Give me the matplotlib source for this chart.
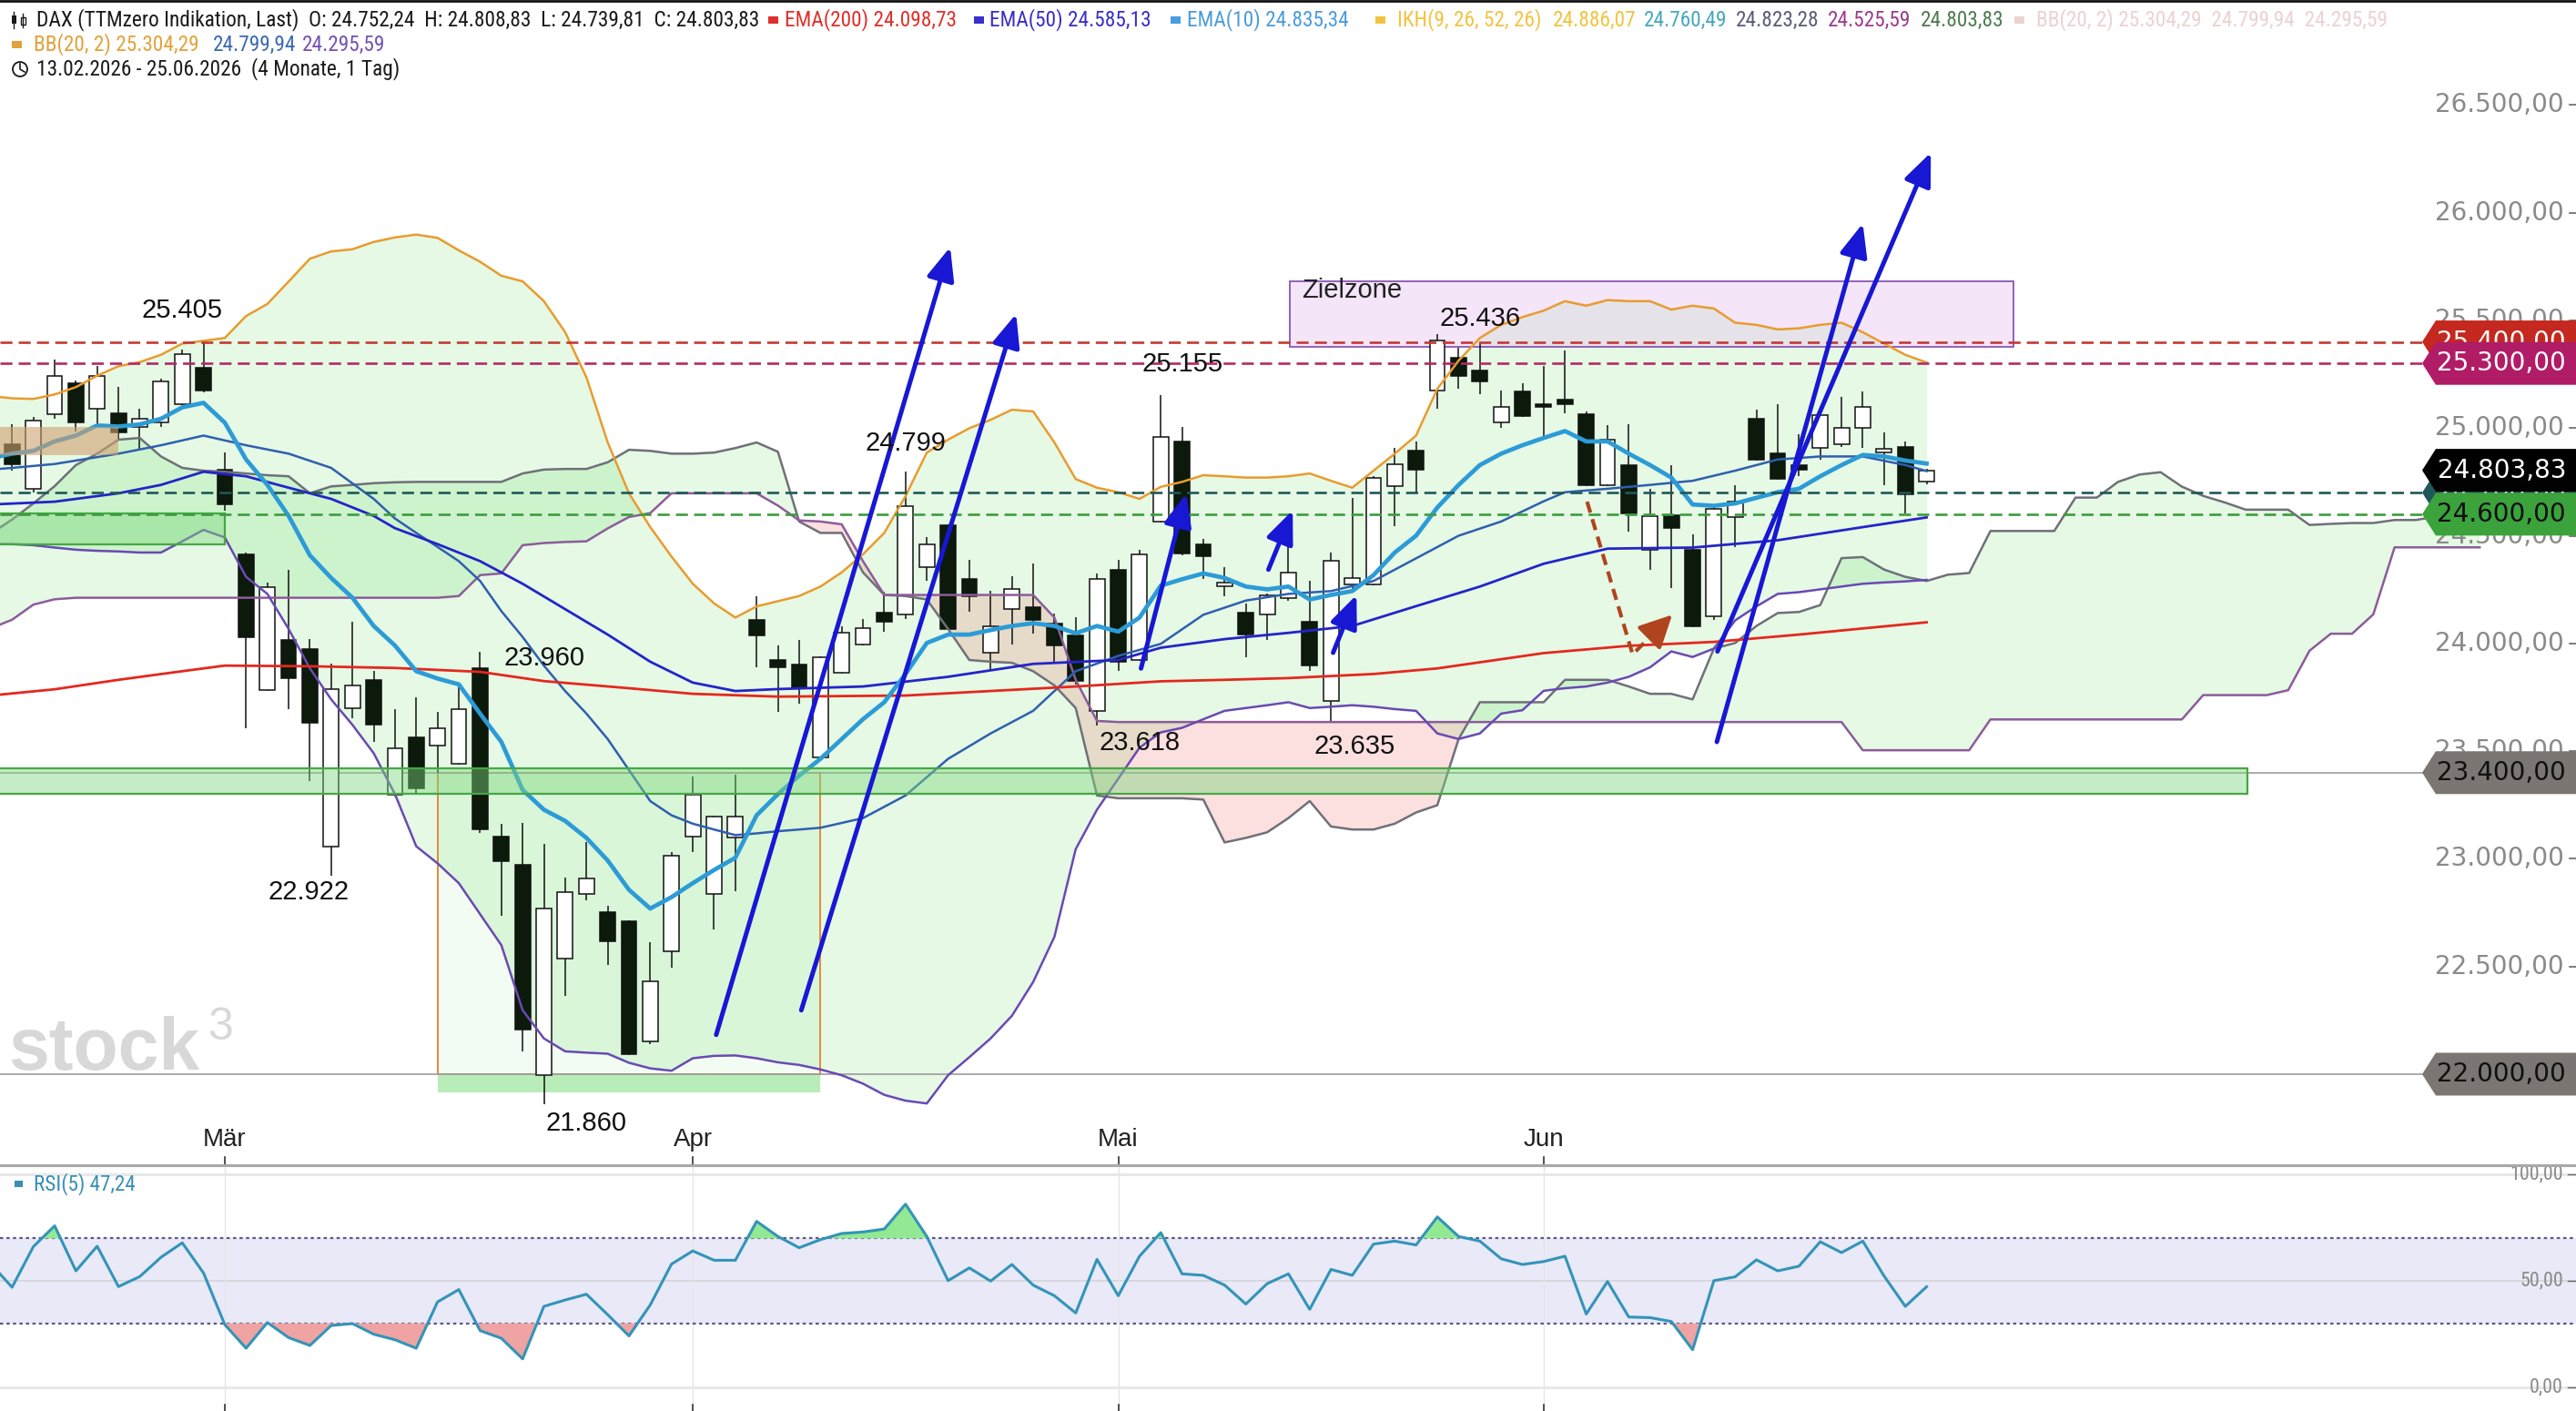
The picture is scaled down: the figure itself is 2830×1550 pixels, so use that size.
import matplotlib
matplotlib.use("Agg")
import matplotlib.pyplot as plt
import numpy as np
from matplotlib import font_manager, transforms
from matplotlib.font_manager import FontProperties
from matplotlib.patches import Rectangle, Polygon, Circle

# ---------------- data ----------------
opens = [24850, 24925, 24718, 25064, 25206, 25090, 25070, 25007, 25025, 25111,
         25279, 24807, 24414, 23784, 24015, 23973, 23058, 23700, 23831, 23299,
         23564, 23527, 23443, 23884, 23105, 22974, 21995, 22538, 22835, 22751,
         22709, 22153, 22572, 23102, 22835, 23097, 24107, 23923, 23902, 23472,
         23866, 23994, 24141, 24136, 24356, 24548, 24298, 23957, 24159, 24167,
         24094, 24036, 23687, 24340, 23923, 24566, 24938, 24461, 24264, 24141,
         24133, 24212, 24099, 23732, 24272, 24272, 24729, 24894, 25174, 25327,
         25269, 25025, 25169, 25109, 25130, 25064, 24736, 24828, 24435, 24597,
         24435, 24125, 24587, 25043, 24881, 24828, 24907, 24925, 24999, 24886,
         24912, 24752.24]
highs = [24920, 25017, 25051, 25319, 25222, 25287, 25190, 25090, 25227, 25363,
         25405, 24886, 24422, 24283, 24343, 24020, 23905, 24102, 23871, 23695,
         23748, 23682, 23810, 23960, 23163, 23168, 23071, 22913, 23076, 22782,
         22715, 22612, 23031, 23380, 23200, 23391, 24220, 23989, 24015, 23940,
         24081, 24115, 24238, 24799, 24492, 24552, 24388, 24246, 24312, 24369,
         24138, 24120, 24325, 24388, 24435, 25155, 25007, 24487, 24356, 24186,
         24230, 24487, 24290, 24422, 24676, 24775, 24907, 24938, 25436, 25374,
         25392, 25174, 25209, 25287, 25358, 25077, 25012, 25017, 24718, 24828,
         24506, 24631, 24736, 25085, 25111, 24972, 25077, 25143, 25169, 24980,
         24938, 24808.83]
lows = [24780, 24802, 24702, 25043, 24986, 25017, 24946, 24894, 25007, 25105,
        25164, 24618, 23608, 23780, 23695, 23359, 22922, 23653, 23543, 23290,
        23307, 23399, 23438, 23118, 22735, 22105, 21860, 22363, 22808, 22507,
        22090, 22140, 22494, 23031, 22672, 22848, 23889, 23682, 23719, 23470,
        23860, 23990, 24055, 24115, 24290, 24068, 24146, 23871, 23994, 24047,
        23910, 23810, 23618, 23871, 23920, 24560, 24410, 24298, 24220, 23936,
        24015, 24199, 23871, 23635, 24251, 24270, 24545, 24702, 25090, 25182,
        25156, 24999, 25050, 24959, 25070, 24730, 24730, 24519, 24343, 24256,
        24075, 24107, 24448, 24849, 24760, 24776, 24854, 24912, 24907, 24736,
        24605, 24739.81]
closes = [24880, 24833, 25033, 25243, 25025, 25243, 24978, 25043, 25216, 25342,
          25174, 24645, 24028, 24262, 23839, 23630, 23787, 23805, 23622, 23511,
          23328, 23608, 23695, 23136, 22987, 22205, 22769, 22845, 22908, 22617,
          22095, 22433, 23013, 23299, 23197, 23197, 24036, 23889, 23792, 23936,
          24049, 24073, 24102, 24639, 24461, 24068, 24220, 24081, 24251, 24107,
          23989, 23826, 24298, 23915, 24414, 24959, 24416, 24403, 24283, 24041,
          24225, 24330, 23897, 24382, 24304, 24770, 24833, 24807, 25405, 25243,
          25216, 25096, 25056, 25096, 25111, 24736, 24946, 24605, 24592, 24534,
          24081, 24624, 24658, 24854, 24763, 24807, 25059, 24999, 25096, 24902,
          24692, 24803.83]

ema10 = [24860, 24881, 24894, 24938, 24965, 25012, 25007, 25017, 25043, 25096,
         25117, 25025, 24854, 24736, 24592, 24409, 24304, 24212, 24081, 23990,
         23871, 23837, 23810, 23674, 23543, 23320, 23228, 23176, 23097, 22992,
         22856, 22769, 22822, 22887, 22948, 23005, 23202, 23300, 23386, 23464,
         23556, 23648, 23727, 23858, 24002, 24041, 24041, 24062, 24081, 24094,
         24081, 24047, 24081, 24055, 24120, 24268, 24298, 24325, 24304, 24264,
         24251, 24264, 24204, 24225, 24243, 24317, 24422, 24500, 24631, 24736,
         24828, 24881, 24920, 24954, 24986, 24938, 24938, 24881, 24828, 24770,
         24645, 24639, 24650, 24676, 24702, 24718, 24776, 24828, 24875, 24868,
         24849, 24835]
bb_up = [25148, 25138, 25135, 25156, 25190, 25243, 25287, 25306, 25340, 25392,
         25405, 25418, 25520, 25576, 25680, 25786, 25820, 25830, 25864, 25885,
         25898, 25883, 25825, 25772, 25707, 25681, 25589, 25445, 25235, 24933,
         24697, 24540, 24403, 24277, 24186, 24120, 24172, 24196, 24220, 24264,
         24330, 24414, 24513, 24684, 24886, 24946, 24999, 25038, 25085, 25077,
         24933, 24763, 24723, 24702, 24671, 24727, 24750, 24781, 24776, 24770,
         24770, 24776, 24789, 24755, 24723, 24802, 24881, 24965, 25182, 25313,
         25418, 25479, 25515, 25545, 25589, 25568, 25594, 25589, 25589, 25550,
         25568, 25555, 25489, 25479, 25458, 25463, 25479, 25489, 25445, 25392,
         25340, 25304]
bb_lo = [24461, 24461, 24456, 24445, 24435, 24430, 24427, 24422, 24422, 24474,
         24527, 24492, 24309, 24230, 24067, 23884, 23740, 23622, 23490, 23300,
         23058, 22979, 22887, 22743, 22599, 22297, 22166, 22106, 22100, 22095,
         22053, 22027, 22016, 22074, 22085, 22087, 22074, 22055, 22043, 22022,
         21995, 21956, 21904, 21877, 21864, 21995, 22079, 22166, 22271, 22428,
         22638, 23045, 23228, 23372, 23516, 23587, 23608, 23648, 23687, 23700,
         23713, 23727, 23700, 23706, 23713, 23706, 23695, 23687, 23582, 23556,
         23582, 23674, 23690, 23780, 23792, 23800, 23818, 23845, 23889, 23963,
         23937, 23976, 24107, 24172, 24230, 24238, 24251, 24264, 24277, 24283,
         24288, 24295]
bbmid_x = [0, 1, 3, 6, 8, 10, 12, 14, 16, 18, 19, 20, 21, 22, 23, 24, 25, 26, 27,
           28, 29, 30, 31, 32, 33, 34, 35, 36, 37, 39, 41, 43, 45, 47, 49, 51, 53,
           55, 57, 59, 61, 63, 65, 67, 69, 71, 73, 74, 76, 78, 80, 82, 84, 86, 88,
           90, 91]
bbmid_y = [24807, 24815, 24833, 24881, 24920, 24965, 24920, 24881, 24815, 24671,
           24580, 24513, 24448, 24382, 24290, 24150, 24030, 23897, 23779, 23674,
           23556, 23412, 23268, 23202, 23163, 23136, 23110, 23118, 23128, 23144,
           23189, 23294, 23464, 23582, 23687, 23871, 23942, 23998, 24133, 24199,
           24230, 24243, 24290, 24395, 24500, 24566, 24660, 24702, 24718, 24736,
           24755, 24802, 24854, 24868, 24868, 24828, 24800]
ema200_x = [0, 3, 6, 9, 11, 15, 19, 23, 26, 30, 33, 37, 43, 47, 51, 55, 58, 61,
            65, 68, 73, 77, 81, 85, 91]
ema200_y = [23758, 23787, 23831, 23871, 23897, 23894, 23886, 23868, 23825, 23792,
            23766, 23753, 23758, 23779, 23800, 23824, 23831, 23839, 23858, 23884,
            23955, 23989, 24007, 24041, 24098]
ema50_x = [0, 3, 6, 8, 10, 12, 14, 16, 18, 19, 21, 23, 25, 27, 29, 31, 33, 35,
           37, 41, 45, 49, 53, 55, 58, 61, 64, 67, 70, 73, 76, 80, 84, 88, 91]
ema50_y = [24645, 24658, 24697, 24736, 24797, 24776, 24723, 24671, 24592, 24535,
           24461, 24382, 24277, 24159, 24041, 23915, 23818, 23779, 23788, 23800,
           23845, 23905, 23923, 23980, 24020, 24049, 24081, 24173, 24264, 24370,
           24440, 24445, 24479, 24540, 24585]

# Ichimoku cloud (runs 26 bars past the last candle)
span_a = [24510, 24575, 24650, 24730, 24828, 24881, 24946, 24954, 24868, 24815,
          24802, 24797, 24789, 24781, 24776, 24697, 24729, 24736, 24744, 24748,
          24750, 24750, 24750, 24750, 24750, 24789, 24807, 24810, 24810, 24841,
          24899, 24894, 24881, 24881, 24886, 24907, 24933, 24890, 24566, 24513,
          24513, 24330, 24225, 24220, 24204, 24067, 23923, 23915, 23910, 23871,
          23805, 23700, 23294, 23281, 23281, 23281, 23281, 23275, 23076, 23097,
          23123, 23189, 23268, 23150, 23136, 23136, 23163, 23215, 23249, 23556,
          23727, 23727, 23727, 23727, 23831, 23831, 23831, 23800, 23766, 23766,
          23740, 23976, 24002, 24081, 24141, 24146, 24178, 24396, 24401, 24343,
          24309, 24290, 24319, 24327, 24522, 24522, 24522, 24522, 24677, 24677,
          24750, 24784, 24795, 24728, 24685, 24655, 24621, 24621, 24621, 24550,
          24555, 24559, 24559, 24573, 24573, 24590, 24600, 24610]
span_b = ([24070, 24110, 24180, 24205] + [24212] * 18 +
          [24220, 24317, 24325, 24456, 24466, 24471, 24474, 24534, 24587, 24605] +
          [24697] * 5 + [24640, 24571, 24566, 24553, 24382] + [24225] * 8 +
          [24120, 23831, 23640] + [23635] * 35 + [23504] * 6 + [23647] * 10 +
          [23760] * 4 + [23783, 23966, 24045, 24045, 24135] + [24446] * 5)

rsi = [58.0, 47.0, 66.1, 75.9, 54.7, 66.3, 47.3, 52.0, 61.1, 67.9,
       53.7, 29.4, 18.3, 30.4, 23.3, 19.6, 29.0, 29.9, 24.9, 22.3,
       18.3, 40.1, 45.9, 26.6, 23.0, 13.3, 38.0, 41.0, 43.7, 34.1,
       24.1, 38.7, 57.9, 64.1, 59.7, 59.7, 78.0, 70.9, 65.6, 69.4,
       72.3, 73.0, 74.4, 86.1, 70.9, 50.1, 56.1, 49.9, 57.7, 48.0,
       43.0, 34.9, 60.1, 43.0, 61.6, 72.7, 53.3, 52.6, 48.0, 39.1,
       48.7, 53.3, 36.6, 55.4, 52.6, 67.3, 68.7, 66.9, 80.1, 70.9,
       68.7, 60.4, 57.7, 59.1, 61.6, 34.4, 49.7, 33.0, 32.7, 30.9,
       17.6, 50.1, 51.9, 59.9, 54.7, 56.9, 68.4, 63.3, 68.7, 52.3,
       38.0, 47.24]

months = ["Mär", "Apr", "Mai", "Jun"]
month_idx = [11, 33, 53, 73]

# drawn annotations: bar index, high/low, x offset (bars), y offset (points)
marks = [(10, "H", -1.0, 141), (23, "H", 3.0, -27), (16, "L", -1.05, -75),
         (26, "L", 2.0, -88), (43, "H", 0.0, 131), (55, "H", 1.0, 143),
         (52, "L", 2.0, -81), (63, "L", 1.1, -115), (68, "H", 2.0, 70)]
arrow_from = [(34.1, 22183), (38.1, 22297), (54.07, 23884), (60.06, 24343),
              (63.1, 23957), (81.14, 23543), (81.17, 23963)]
arrow_to = [(45.1, 25840), (48.2, 25530), (56.2, 24697), (61.2, 24618),
            (64.2, 24225), (88.0, 25950), (91.2, 26279)]
brown_path = [(75.04, 24658), (77.18, 23949), (79.04, 24133)]

levels = [25400, 25300, 24700, 24600]
level_cols = ["#c23a32", "#b22a66", "#1f5858", "#3e9c3e"]
tags = [(24700, "#1f5858", "white"), (25400, "#c4281e", "white"),
        (25300, "#b01c66", "white"), (24803.83, "#000000", "white"),
        (24600, "#3ca23c", "#101010"), (23400, "#7c7672", "#101010"),
        (22000, "#7c7672", "#101010")]
yticks = [22000, 22500, 23000, 23500, 24000, 24500, 25000, 25500, 26000, 26500]


def de(v, nd=2):
    s = f"{v:,.{nd}f}"
    return s.replace(",", "#").replace(".", ",").replace("#", ".")


def pick_narrow():
    prefs = ["Liberation Sans Narrow", "Roboto Condensed", "Arial Narrow",
             "DejaVu Sans", "Noto Sans", "Open Sans"]
    best = None
    for f in font_manager.fontManager.ttflist:
        nm = f.name.lower()
        st = str(f.stretch).lower()
        narrow = "narrow" in nm or "condensed" in nm or st in ("condensed", "semi-condensed")
        if not narrow or f.style != "normal" or str(f.weight).lower() not in ("400", "normal", "regular", "book"):
            continue
        rank = next((k for k, p in enumerate(prefs) if f.name.startswith(p)), len(prefs))
        if best is None or rank < best[0]:
            best = (rank, f.fname)
    return best[1] if best else None


# ---------------- layout ----------------
W, H = 2830, 1550
PB = 1279
X0, DX = -10.1, 23.37
XL = (-X0 / DX, (W - X0) / DX)
Y22, PPX = 1180, 0.2366
YL = (22000 - (PB - Y22) / PPX, 22000 + Y22 / PPX)

ARIAL = "Liberation Sans"
WIDE = "DejaVu Sans"
narrow_file = pick_narrow()


def nfont(size):
    if narrow_file:
        return FontProperties(fname=narrow_file, size=size)
    return FontProperties(family=ARIAL, size=size)


fig = plt.figure(figsize=(W / 100, H / 100), dpi=100)
fig.patch.set_facecolor("white")
ax = fig.add_axes([0, (H - PB) / H, 1, PB / H])
rax = fig.add_axes([0, 0, 1, (H - PB) / H])
ov = fig.add_axes([0, 0, 1, 1], zorder=20)
for a in (ax, rax, ov):
    a.set_axis_off()
ax.set_xlim(*XL)
ax.set_ylim(*YL)
rax.set_xlim(*XL)
rax.set_ylim(-11.22, 104.84)
ov.set_xlim(0, W)
ov.set_ylim(H, 0)

bi = np.arange(len(closes))
ci = np.arange(len(span_a))
o = np.array(opens); c = np.array(closes)
a_ = np.array(span_a); b_ = np.array(span_b)
GREEN = (0, 0.78, 0)

# fills
ax.fill_between(bi, bb_up, bb_lo, color=GREEN, alpha=0.1, lw=0, zorder=1)
ax.fill_between(ci, a_, b_, where=a_ >= b_, interpolate=True, color=GREEN, alpha=0.1, lw=0, zorder=1)
ax.fill_between(ci, a_, b_, where=a_ < b_, interpolate=True, color=(0.94, 0.31, 0.31), alpha=0.18, lw=0, zorder=1)

# zones behind candles
ax.add_patch(Rectangle((21.0, 22000), 18.0, 1400, facecolor=GREEN, alpha=0.05, lw=0, zorder=1.2))
ax.add_patch(Rectangle((21.0, 22000), 18.0, 1400, facecolor="none", edgecolor="#e2893a", lw=1.4, zorder=1.3))
ax.add_patch(Rectangle((21.0, 21915), 18.0, 85, facecolor="#a0e6a0", alpha=0.75, lw=0, zorder=1.3))
ax.add_patch(Rectangle((61.06, 25375), 34.04, 305, facecolor="#e6c0f0", alpha=0.4,
                       edgecolor="none", zorder=1.3))
ax.add_patch(Rectangle((61.06, 25375), 34.04, 305, facecolor="none", edgecolor="#8a55b4", lw=1.3, zorder=1.4))

# horizontal levels
tip_i = (2661 - X0) / DX
for p in (23400, 22000):
    ax.plot([XL[0], tip_i], [p, p], color="#9c9c9c", lw=1.2, zorder=2)

# candles
up = c >= o
body_lo = np.minimum(o, c)
body_h = np.maximum(np.abs(c - o), 12)
ax.vlines(bi, lows, highs, color="#111111", lw=1.1, zorder=3)
ax.bar(bi, body_h, bottom=body_lo, width=0.72,
       color=np.where(up, "white", "#0b1a0b"), edgecolor="#111111", linewidth=1.1, zorder=3.2)

# indicator lines
ax.plot(ci, span_a, color="#6f7078", lw=1.8, zorder=4)
ax.plot(ci, span_b, color="#8c5c9a", lw=1.8, zorder=4)
ax.plot(bi, bb_up, color="#e89c2e", lw=1.8, zorder=4.1)
ax.plot(bbmid_x, bbmid_y, color="#2f5fae", lw=1.8, zorder=4.1)
ax.plot(bi, bb_lo, color="#6a4ab2", lw=1.8, zorder=4.1)
ax.plot(ema200_x, ema200_y, color="#e4281e", lw=2.0, zorder=4.2)
ax.plot(ema50_x, ema50_y, color="#2424c8", lw=2.0, zorder=4.2)
ax.plot(bi, ema10, color="#2c9bd6", lw=3.4, zorder=4.4)

# green / tan zone boxes over candles
for x0, y0, w, h in [(-2, 24461, 13, 144), (-2, 23300, 108.1, 120)]:
    ax.add_patch(Rectangle((x0, y0), w, h, facecolor="#7fd87f", alpha=0.45, lw=0, zorder=5))
    ax.add_patch(Rectangle((x0, y0), w, h, facecolor="none", edgecolor="#45a845", lw=1.6, zorder=5.1))
ax.add_patch(Rectangle((-2, 24876), 8, 131, facecolor="#d0a070", alpha=0.6, lw=0, zorder=5))

for p, col in zip(levels, level_cols):
    ax.plot([XL[0], tip_i], [p, p], color=col, lw=1.9, ls=(0, (5, 2.6)), zorder=5.5)

# arrows
for (sx, sy), (tx, ty) in zip(arrow_from, arrow_to):
    ax.annotate("", xy=(tx, ty), xytext=(sx, sy), annotation_clip=False, zorder=6,
                arrowprops=dict(arrowstyle="-|>,head_length=1.0,head_width=0.42",
                                color="#1717d4", lw=3.6, shrinkA=0, shrinkB=0,
                                mutation_scale=22))
bx = [p[0] for p in brown_path]; by = [p[1] for p in brown_path]
ax.plot(bx[:2] + [bx[1] + 0.8 * (bx[2] - bx[1])], by[:2] + [by[1] + 0.8 * (by[2] - by[1])],
        color="#b0441e", lw=3.0, ls=(0, (3, 1.8)), zorder=6)
ax.annotate("", xy=(bx[2], by[2]), xytext=(bx[1] + 0.7 * (bx[2] - bx[1]), by[1] + 0.7 * (by[2] - by[1])),
            zorder=6, arrowprops=dict(arrowstyle="-|>,head_length=1.0,head_width=0.5",
                                      color="#b0441e", lw=3.0, shrinkA=0, shrinkB=0,
                                      mutation_scale=22))

# value labels
for i, kind, dx, dy in marks:
    v = highs[i] if kind == "H" else lows[i]
    ax.text(i + dx, v + dy, de(v, 0), ha="center", va="center", fontsize=21,
            family=ARIAL, color="#111111", zorder=7)
ax.text(61.63, 25641, "Zielzone", ha="left", va="center", fontsize=21,
        family=ARIAL, color="#222222", zorder=7)

# watermark
ax.text(9 / W, (PB - 1175) / PB, "stock", transform=ax.transAxes, fontsize=58,
        family=ARIAL, weight="bold", color="#d8d8d8", va="baseline", ha="left", zorder=0.5)
ax.text(228 / W, (PB - 1106) / PB, "3", transform=ax.transAxes, fontsize=36,
        family=ARIAL, color="#d8d8d8", va="top", ha="left", zorder=0.5)

# price scale labels and tags
bt = transforms.blended_transform_factory(ax.transAxes, ax.transData)
for p in yticks:
    ax.text(2817 / W, p, de(p), transform=bt, ha="right", va="center", fontsize=20,
            family=WIDE, color="#8a8a8a", zorder=8)
    ax.plot([2823 / W, 1.0], [p, p], transform=bt, color="#666666", lw=1.2, zorder=8)
half = 23.5 / PPX
for k, (p, bg, fg) in enumerate(tags):
    z = 9 + 0.1 * k
    pts = [(2661 / W, p), (2676 / W, p + half), (1.0, p + half), (1.0, p - half), (2676 / W, p - half)]
    ax.add_patch(Polygon(pts, closed=True, transform=bt, facecolor=bg, edgecolor="none", zorder=z))
    ax.text(2819 / W, p, de(p), transform=bt, ha="right", va="center", fontsize=20,
            family=WIDE, color=fg, zorder=z + 0.05)

# month labels and ticks
bx_ax = transforms.blended_transform_factory(ax.transData, ax.transAxes)
bx_r = transforms.blended_transform_factory(rax.transData, rax.transAxes)
for m, lab in zip(month_idx, months):
    ax.text(m, (PB - 1252) / PB, lab, transform=bx_ax, ha="center", va="center",
            fontsize=20, family=ARIAL, color="#222222", zorder=7)
    ax.plot([m, m], [0, 8 / PB], transform=bx_ax, color="#333333", lw=1.2, zorder=7)
    rax.axvline(m, color="#e6e6e6", lw=1.0, zorder=0.5)
    rax.plot([m, m], [0, 7 / (H - PB)], transform=bx_r, color="#333333", lw=1.2, zorder=7)

# ---------------- RSI panel ----------------
r = np.array(rsi)
rax.axhspan(30, 70, color="#e9e9f8", zorder=0.2, lw=0)
rax.axhline(100, color="#e8e8e8", lw=2.2, zorder=0.4)
rax.axhline(0, color="#e8e8e8", lw=2.2, zorder=0.4)
rax.axhline(50, color="#d4d4d8", lw=1.2, zorder=0.4)
for lv in (70, 30):
    rax.axhline(lv, color="#5a5a8c", lw=1.6, ls=(0, (1.6, 1.6)), zorder=1)
rax.fill_between(bi, r, 70, where=r > 70, interpolate=True, color="#93e893", lw=0, zorder=1.5)
rax.fill_between(bi, r, 30, where=r < 30, interpolate=True, color="#efa3a3", lw=0, zorder=1.5)
rax.plot(bi, r, color="#3394b8", lw=2.2, zorder=2)

# ---------------- overlay: separator, header ----------------
ov.plot([0, W], [1280, 1280], color="#a8a8a8", lw=2.2)
ov.plot([0, W], [1, 1], color="#111111", lw=2.0)

renderer = fig.canvas.get_renderer()
main = "DAX (TTMzero Indikation, Last)  O: 24.752,24  H: 24.808,83  L: 24.739,81  C: 24.803,83"
t = ov.text(0, 0, main, fontproperties=nfont(15))
hs = min(19.0, 15 * 795 / t.get_window_extent(renderer).width)
t.remove()
t = ov.text(0, 0, "100,00", fontproperties=nfont(14))
rs = min(16.0, 14 * 59 / t.get_window_extent(renderer).width)
t.remove()

line1 = [(40, main, "#1a1a1a"), (862, "EMA(200) 24.098,73", "#e0302c"),
         (1087, "EMA(50) 24.585,13", "#3a2fc8"), (1304, "EMA(10) 24.835,34", "#4a9cdc"),
         (1535, "IKH(9, 26, 52, 26)", "#f0c440"), (1706, "24.886,07", "#f0c440"),
         (1806, "24.760,49", "#45a8bc"), (1907, "24.823,28", "#5b5b78"),
         (2008, "24.525,59", "#9a3c8c"), (2110, "24.803,83", "#4e7c4e"),
         (2237, "BB(20, 2) 25.304,29  24.799,94  24.295,59", "#ecd2d2")]
for x, s, col in line1:
    ov.text(x, 22, s, fontproperties=nfont(hs), color=col, va="center", ha="left")
for x, col in [(844, "#e0302c"), (1070, "#3a2fc8"), (1286, "#4a9cdc"), (1511, "#f0c440"), (2213, "#ecd2d2")]:
    ov.add_patch(Rectangle((x, 18), 11, 8, facecolor=col, lw=0))
line2 = [(37, "BB(20, 2) 25.304,29", "#e2a23a"), (234, "24.799,94", "#3a6ab0"), (332, "24.295,59", "#7552b4")]
for x, s, col in line2:
    ov.text(x, 49, s, fontproperties=nfont(hs), color=col, va="center", ha="left")
ov.add_patch(Rectangle((13, 45), 11, 8, facecolor="#e2a23a", lw=0))
ov.text(40, 76, "13.02.2026 - 25.06.2026  (4 Monate, 1 Tag)", fontproperties=nfont(hs),
        color="#1a1a1a", va="center", ha="left")
ov.add_patch(Circle((22, 76), 8, facecolor="none", edgecolor="#1a1a1a", lw=1.3))
ov.plot([22, 22, 27], [70, 76, 79], color="#1a1a1a", lw=1.2)
# candle icon
ov.plot([15, 15], [13, 31], color="#1a1a1a", lw=1.0)
ov.add_patch(Rectangle((12.5, 17), 5, 9, facecolor="#1a1a1a", lw=0))
ov.plot([25, 25], [15, 30], color="#1a1a1a", lw=1.0)
ov.add_patch(Rectangle((22.5, 19), 5, 8, facecolor="white", edgecolor="#1a1a1a", lw=1.0))

ov.add_patch(Rectangle((16, 1297), 9, 7, facecolor="#3a8fb5", lw=0))
ov.text(37, 1301, "RSI(5) 47,24", fontproperties=nfont(rs * 1.05), color="#3a8fb5",
        va="center", ha="left")
br = transforms.blended_transform_factory(rax.transAxes, rax.transData)
for v in (100, 50, 0):
    rax.text(2816 / W, v, de(v), transform=br, ha="right", va="center",
             fontproperties=nfont(rs), color="#8a8a8a", zorder=3)
    rax.plot([2821 / W, 1.0], [v, v], transform=br, color="#666666", lw=1.0, zorder=3)

fig.savefig("out.png", dpi=100)
